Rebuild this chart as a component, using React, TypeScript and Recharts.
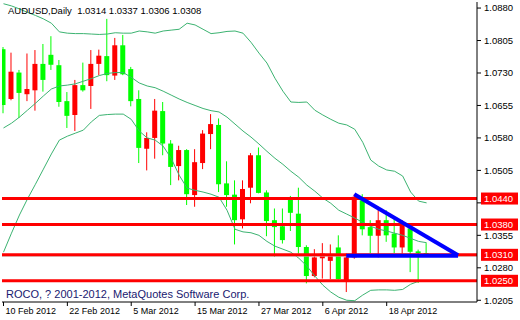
import { Bar, ComposedChart, Line, ReferenceLine, XAxis, YAxis } from "recharts";

// daily bars, index 0 = 10 Feb 2012
const dateTicks = [0, 8, 16, 24, 32, 40, 48];
const dateLabels = ["10 Feb 2012", "22 Feb 2012", "5 Mar 2012", "15 Mar 2012", "27 Mar 2012", "6 Apr 2012", "18 Apr 2012"];
const priceTicks = [1.088, 1.0805, 1.073, 1.0655, 1.058, 1.0505, 1.043, 1.0355, 1.028, 1.0205];

const opens = [
  1.0785, 1.067, 1.0731, 1.0681, 1.069, 1.0751, 1.0772, 1.0748, 1.0665, 1.0633,
  1.0702, 1.07, 1.0751, 1.0769, 1.0724, 1.0794, 1.0739, 1.067, 1.0555, 1.058,
  1.0642, 1.0567, 1.0515, 1.0552, 1.0448, 1.0522, 1.0589, 1.061, 1.0475, 1.0449,
  1.0392, 1.0465, 1.054, 1.0454, 1.039, 1.0376, 1.044, 1.0405, 1.0328, 1.0261,
  1.0302, 1.0296, 1.0327, 1.0251, 1.0304, 1.0436, 1.0374, 1.0354, 1.039, 1.0359,
  1.0327, 1.0371, 1.0318, 1.0314,
];
const highs = [
  1.079, 1.0777, 1.0737, 1.0775, 1.0783, 1.0797, 1.0815, 1.076, 1.0686, 1.0714,
  1.0754, 1.0783, 1.0784, 1.0855, 1.0811, 1.0818, 1.0744, 1.069, 1.0593, 1.067,
  1.0663, 1.0575, 1.0562, 1.0554, 1.0554, 1.0598, 1.0635, 1.0625, 1.0526, 1.0482,
  1.0482, 1.0545, 1.0558, 1.0459, 1.0417, 1.0417, 1.0446, 1.0465, 1.0332, 1.0323,
  1.0337, 1.0334, 1.0355, 1.0313, 1.045, 1.045, 1.039, 1.0421, 1.0413, 1.0398,
  1.039, 1.0378, 1.0322, 1.0337,
];
const lows = [
  1.0637, 1.0667, 1.0626, 1.0665, 1.0643, 1.0687, 1.0737, 1.0652, 1.0603, 1.0596,
  1.0687, 1.0647, 1.0725, 1.0711, 1.0714, 1.0725, 1.0653, 1.0522, 1.0505, 1.0532,
  1.054, 1.0471, 1.0482, 1.0425, 1.0421, 1.0508, 1.0554, 1.0455, 1.0421, 1.0334,
  1.0371, 1.0429, 1.0452, 1.0353, 1.0305, 1.0336, 1.0365, 1.0313, 1.0244, 1.0258,
  1.0255, 1.0254, 1.0253, 1.0224, 1.0301, 1.0355, 1.0314, 1.0304, 1.034, 1.0314,
  1.0313, 1.027, 1.0245, 1.0306,
];
const closes = [
  1.0656, 1.0733, 1.0684, 1.0693, 1.0751, 1.0714, 1.0749, 1.0663, 1.0631, 1.0702,
  1.069, 1.0751, 1.077, 1.0725, 1.0794, 1.0727, 1.0665, 1.0557, 1.058, 1.0643,
  1.0567, 1.0513, 1.0552, 1.045, 1.0524, 1.059, 1.0612, 1.0473, 1.0448, 1.039,
  1.0462, 1.054, 1.0453, 1.0388, 1.0374, 1.0344, 1.0407, 1.0328, 1.0261, 1.0304,
  1.0313, 1.0308, 1.0254, 1.0304, 1.0444, 1.0369, 1.0354, 1.039, 1.0355, 1.0327,
  1.0382, 1.0317, 1.0314, 1.0308,
];

// bollinger bands
const bbUpper = [
  1.089, 1.0885, 1.0878, 1.087, 1.0863, 1.0855, 1.0845, 1.0825, 1.0822, 1.0821,
  1.0821, 1.082, 1.0819, 1.082, 1.0823, 1.0822, 1.0822, 1.0827, 1.0825, 1.0822,
  1.0827, 1.0829, 1.0831, 1.0845, 1.0841, 1.0831, 1.0821, 1.0823, 1.0826, 1.0827,
  1.0822, 1.0801, 1.0776, 1.0753, 1.0718, 1.0688, 1.0663, 1.0662, 1.0663, 1.0644,
  1.0633, 1.0623, 1.0614, 1.061, 1.06, 1.057, 1.0529, 1.0515, 1.0506, 1.0503,
  1.0492, 1.0455, 1.0434, 1.043,
];
const bbMiddle = [
  1.0603, 1.0614, 1.0628, 1.0644, 1.066, 1.0677, 1.0693, 1.07, 1.0702, 1.0705,
  1.0711, 1.0717, 1.0724, 1.0729, 1.0731, 1.0731, 1.072, 1.0707, 1.07, 1.0696,
  1.0688, 1.0679, 1.067, 1.0662, 1.0655, 1.0648, 1.0643, 1.064, 1.0628, 1.0612,
  1.0596, 1.0582, 1.0566, 1.0549, 1.0533, 1.0519, 1.0503, 1.0489, 1.0471, 1.0457,
  1.0441, 1.0429, 1.0413, 1.0404, 1.0395, 1.0385, 1.0376, 1.0369, 1.0365, 1.036,
  1.0355, 1.0348, 1.0341, 1.0338,
];
const bbLower = [
  1.0316, 1.036, 1.0402, 1.0439, 1.0473, 1.0508, 1.0543, 1.0575, 1.0584, 1.0591,
  1.0598, 1.0617, 1.0632, 1.0634, 1.0635, 1.0635, 1.0623, 1.0596, 1.058, 1.0575,
  1.0561, 1.0533, 1.0494, 1.0464, 1.0459, 1.0455, 1.045, 1.0443, 1.0413, 1.0369,
  1.0363, 1.0361, 1.0355, 1.0341, 1.033, 1.0323, 1.0316, 1.0302, 1.0284, 1.0261,
  1.024, 1.0224, 1.0212, 1.0205, 1.0204, 1.0217, 1.0228, 1.0229, 1.0229, 1.0228,
  1.023, 1.0242, 1.0249, 1.025,
];

const levels = [1.044, 1.038, 1.031, 1.025];
const bidPrice = 1.0307;
const triangleSide = [{ x: 43.94, y: 1.045 }, { x: 56.94, y: 1.0309 }];
const triangleBase = [{ x: 42.94, y: 1.0308 }, { x: 56.94, y: 1.0308 }];

const rows = opens.map((open, i) => ({
  t: i,
  open,
  high: highs[i],
  low: lows[i],
  close: closes[i],
  range: [lows[i], highs[i]],
  upper: bbUpper[i],
  middle: bbMiddle[i],
  lower: bbLower[i],
}));

const font = "'Liberation Sans', Arial, sans-serif";
const xDomain = [-0.1875, 59.3125];
const yDomain = [1.0201, 1.0894];

function Candle(props: any) {
  const { x, y, width, height, payload } = props;
  if (!payload || height == null) return null;
  const { open, close, high, low } = payload;
  const color = close > open ? "#ff0000" : "#00ff00";
  const k = height / (high - low);
  const top = y + (high - Math.max(open, close)) * k;
  const bottom = y + (high - Math.min(open, close)) * k;
  const cx = x + width / 2;
  return (
    <g>
      <line x1={cx} x2={cx} y1={y} y2={y + height} stroke={color} strokeWidth={1} />
      <rect x={x} y={top} width={width} height={Math.max(1, bottom - top)} fill={color} />
    </g>
  );
}

function DateTick({ x, y, payload }: any) {
  const idx = dateTicks.indexOf(payload.value);
  return (
    <text x={x + 2} y={y} dy="0.71em" fontSize={9} fontFamily={font} fill="#000" textAnchor="start">
      {dateLabels[idx]}
    </text>
  );
}

// price labels hidden behind a level tag are not drawn (as in the terminal)
function PriceTick({ x, y, payload }: any) {
  const covered = levels.some((lv) => Math.abs(lv - payload.value) < 0.0012);
  if (covered) return null;
  return (
    <text x={x} y={y} dy="0.355em" fontSize={9.5} fontFamily={font} fill="#000" textAnchor="start">
      {payload.value.toFixed(4)}
    </text>
  );
}

function PriceTag({ viewBox, text }: any) {
  if (!viewBox) return null;
  const left = viewBox.x + viewBox.width + 4;
  return (
    <g>
      <rect x={left} y={viewBox.y - 6} width={37} height={12} fill="#ff0000" />
      <text x={left + 3} y={viewBox.y} dy="0.355em" fontSize={9.5} fontFamily={font} fill="#ffffff">
        {text}
      </text>
    </g>
  );
}

export default function App() {
  return (
    <div style={{ position: "fixed", left: 0, top: 0, width: 520, height: 320, background: "#fff" }}>
      <ComposedChart width={520} height={320} data={rows} margin={{ top: 2, right: 0, bottom: 0, left: 2 }}>
        <XAxis
          dataKey="t"
          type="number"
          domain={xDomain}
          allowDataOverflow
          ticks={dateTicks}
          tick={<DateTick />}
          tickSize={4}
          tickMargin={2}
          height={18}
          axisLine={{ stroke: "#000" }}
          tickLine={{ stroke: "#000" }}
          interval={0}
        />
        <XAxis xAxisId="top" orientation="top" type="number" domain={xDomain} allowDataOverflow height={0} tick={false} tickLine={false} axisLine={{ stroke: "#000" }} />
        <YAxis
          orientation="right"
          type="number"
          domain={yDomain}
          allowDataOverflow
          ticks={priceTicks}
          interval={0}
          width={43}
          tickSize={4}
          tickMargin={3}
          tick={<PriceTick />}
          axisLine={{ stroke: "#000" }}
          tickLine={{ stroke: "#000" }}
        />
        <YAxis yAxisId="left" orientation="left" type="number" domain={yDomain} allowDataOverflow width={0} tick={false} tickLine={false} axisLine={{ stroke: "#000" }} />
        <Line dataKey="upper" stroke="#3cb371" strokeWidth={1} dot={false} isAnimationActive={false} />
        <Line dataKey="middle" stroke="#3cb371" strokeWidth={1} dot={false} isAnimationActive={false} />
        <Line dataKey="lower" stroke="#3cb371" strokeWidth={1} dot={false} isAnimationActive={false} />
        <Bar dataKey="range" barSize={5} shape={<Candle />} isAnimationActive={false} />
        <ReferenceLine y={bidPrice} stroke="#c0c0c0" strokeWidth={1} />
        {levels.map((lv) => (
          <ReferenceLine key={lv} y={lv} stroke="#ff0000" strokeWidth={3} label={<PriceTag text={lv.toFixed(4)} />} />
        ))}
        <ReferenceLine segment={triangleBase} stroke="#0000ff" strokeWidth={4} ifOverflow="visible" />
        <ReferenceLine segment={triangleSide} stroke="#0000ff" strokeWidth={4} ifOverflow="visible" />
      </ComposedChart>
      <div style={{ position: "absolute", left: 8, top: 5, fontFamily: font, fontSize: 9.5, color: "#000", whiteSpace: "pre" }}>
        AUDUSD,Daily  1.0314 1.0337 1.0306 1.0308
      </div>
      <div style={{ position: "absolute", left: 6, top: 288, fontFamily: font, fontSize: 11, color: "#191970", whiteSpace: "pre" }}>
        ROCO, ? 2001-2012, MetaQuotes Software Corp.
      </div>
    </div>
  );
}
